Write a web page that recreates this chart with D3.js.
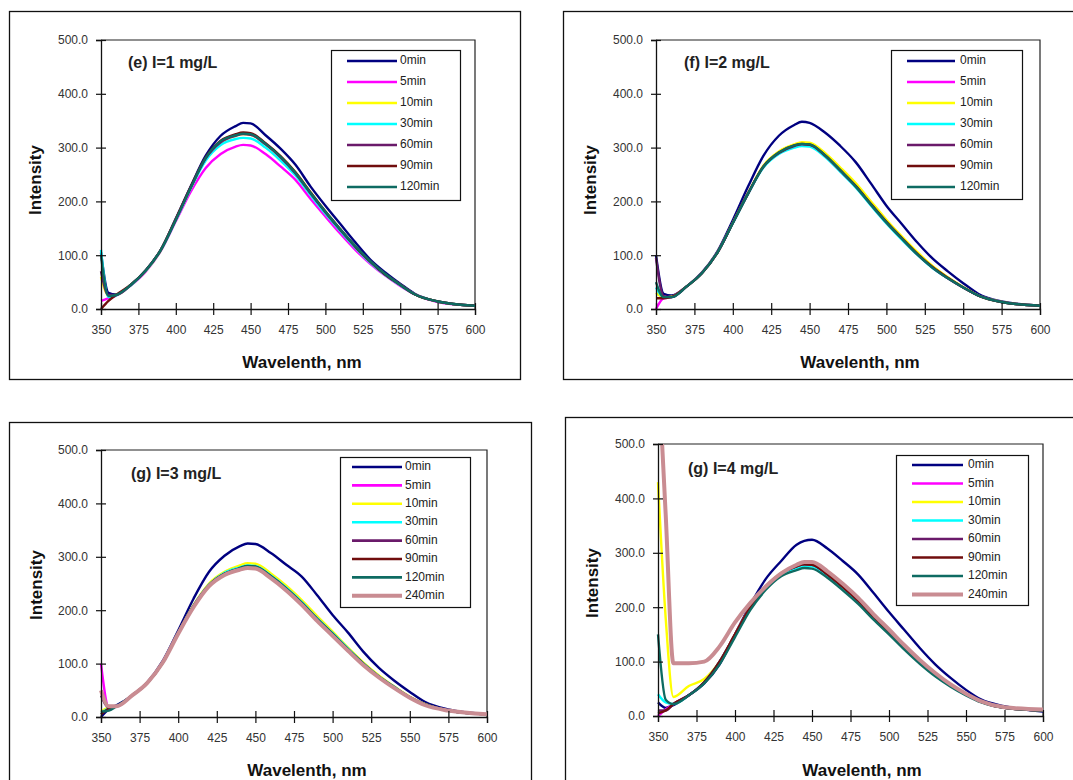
<!DOCTYPE html>
<html><head><meta charset="utf-8">
<script src="https://cdn.jsdelivr.net/npm/d3@7"></script>
<style>
body{margin:0;background:#fff}
svg{display:block}
text{font-family:Arial,"Liberation Sans",sans-serif}
</style>
</head><body>
<svg id="c" width="1073" height="780"></svg>
<script>
// ---------- DATA ----------
const wavelengths = [350,355,360,370,380,390,400,410,420,430,440,445,450,460,470,480,490,500,510,520,530,540,550,560,575,600];
const xTicks = [350,375,400,425,450,475,500,525,550,575,600];
const yTicks = [0,100,200,300,400,500];
const seriesNames7 = ["0min","5min","10min","30min","60min","90min","120min"];
const seriesNames8 = ["0min","5min","10min","30min","60min","90min","120min","240min"];
const seriesColors = ["#000080","#ff00ff","#ffff00","#00ffff","#6a1a6a","#700d0d","#0e6b62","#c98c92"];
const panelTitles = ["(e) I=1 mg/L","(f) I=2 mg/L","(g) I=3 mg/L","(g) I=4 mg/L"];
const xLabel = "Wavelenth, nm";
const yLabel = "Intensity";

// (e) I=1 mg/L
const panelE = [
  [105,30,27,45,72,110,168,228,285,322,340,346,345,323,298,268,228,192,158,124,92,68,47,28,14,6],
  [15,20,25,44,70,108,163,218,262,288,302,305,304,288,265,240,205,172,140,110,84,62,43,27,13,6],
  [60,25,26,45,71,109,166,225,278,310,322,325,324,306,283,254,217,181,148,116,88,64,45,27,14,6],
  [110,22,25,44,71,109,165,224,276,305,316,318,317,300,276,248,212,177,145,114,86,63,44,27,14,6],
  [70,26,26,45,72,110,166,226,280,310,322,325,324,306,282,252,215,180,147,116,88,64,45,27,14,6],
  [0,15,26,45,72,110,167,227,282,313,325,328,327,308,284,254,217,181,148,116,88,64,45,27,14,6],
  [100,24,26,45,72,110,166,226,281,312,323,326,325,307,283,253,216,181,148,117,89,65,45,27,14,6]
];
// (f) I=2 mg/L
const panelF = [
  [100,28,25,42,68,107,165,228,285,322,342,348,346,328,303,273,233,192,158,124,94,70,48,28,14,6],
  [0,20,22,42,67,105,160,215,265,290,302,305,304,285,257,228,194,161,131,102,77,57,40,25,13,6],
  [30,22,23,42,67,105,160,216,267,293,306,310,309,290,263,234,200,166,135,106,80,59,41,25,13,6],
  [40,22,22,42,67,105,159,214,263,288,300,303,302,283,255,226,192,159,129,101,76,57,40,25,13,6],
  [95,24,22,42,67,105,160,215,265,290,303,306,305,285,257,228,194,161,131,102,77,57,40,25,13,6],
  [20,20,22,42,67,105,160,215,265,291,304,307,306,286,258,229,195,162,132,103,78,58,40,25,13,6],
  [50,22,22,42,67,105,160,215,265,291,304,307,306,286,258,228,194,161,131,102,77,57,40,25,13,6]
];
// (g) I=3 mg/L
const panelG = [
  [0,15,22,40,65,105,162,222,272,302,320,325,324,307,285,263,228,191,158,122,92,68,47,28,14,5],
  [100,20,20,40,64,102,157,208,247,268,278,282,281,263,240,213,183,155,126,99,75,55,37,23,12,5],
  [10,18,20,40,64,102,158,210,250,272,284,288,287,269,246,219,189,160,130,102,78,57,38,24,12,5],
  [8,16,20,40,64,102,157,209,248,270,280,284,283,265,242,215,185,157,128,100,76,56,37,23,12,5],
  [40,18,20,40,64,102,157,208,247,268,278,282,281,263,240,213,183,155,126,99,75,55,37,23,12,5],
  [5,16,20,40,64,102,157,208,247,268,278,282,281,263,240,213,183,155,126,99,75,55,37,23,12,5],
  [10,12,20,40,64,102,157,208,247,268,279,283,282,264,241,214,184,156,127,100,76,56,37,23,12,5],
  [50,20,20,40,64,102,156,206,245,266,276,279,278,260,237,210,180,152,124,97,74,54,36,22,12,5]
];
// (g) I=4 mg/L
const panelH = [
  [25,15,20,38,60,95,150,205,252,285,315,322,324,308,285,260,226,191,158,125,95,70,48,30,18,8],
  [0,12,22,38,62,100,150,200,238,262,275,279,278,260,237,212,182,155,126,100,76,56,40,26,15,10],
  [430,180,35,55,68,100,150,200,238,263,276,280,279,261,238,213,183,156,127,100,76,56,40,26,15,10],
  [40,25,22,38,62,100,148,198,236,260,272,276,275,257,234,209,180,153,124,98,74,55,39,26,15,10],
  [10,10,22,38,62,100,150,200,238,262,275,279,278,260,237,212,182,155,126,100,76,56,40,26,15,10],
  [5,10,22,38,62,100,150,200,238,262,275,279,278,260,237,212,182,155,126,100,76,56,40,26,15,10],
  [150,30,22,38,60,95,145,195,232,257,268,272,271,254,231,206,177,150,122,96,73,54,38,25,15,10],
  [650,370,97,97,100,128,172,208,238,262,278,283,283,266,243,217,187,159,130,103,79,58,41,27,16,12]
];

// ---------- LAYOUT ----------
const panels = [
  {data:panelE, names:seriesNames7, title:panelTitles[0],
   frame:[9.5,11.5,520.5,379.5], px:[101,475], py:[40,309],
   leg:[331,50,460,200], legY0:61, legStep:21, legLine:[347,397], legText:400,
   titlePos:[128,68], yLab:[37,180], xLab:[302,368]},
  {data:panelF, names:seriesNames7, title:panelTitles[1],
   frame:[563.5,11.5,1080,379.5], px:[656,1040], py:[40,309],
   leg:[891,50,1022,199], legY0:61, legStep:21, legLine:[907,955], legText:960,
   titlePos:[684,68], yLab:[592,180], xLab:[860,368]},
  {data:panelG, names:seriesNames8, title:panelTitles[2],
   frame:[9.5,422.5,531.5,790], px:[101,487], py:[450,717],
   leg:[340,457,470,607], legY0:467, legStep:18.4, legLine:[352,402], legText:405,
   titlePos:[131,479], yLab:[38,585], xLab:[307,776]},
  {data:panelH, names:seriesNames8, title:panelTitles[3],
   frame:[565.5,417.5,1080,790], px:[658,1043], py:[444,716],
   leg:[896,455,1028,605], legY0:465, legStep:18.5, legLine:[912,963], legText:968,
   titlePos:[688,474], yLab:[594,583], xLab:[862,776]}
];

const svg = d3.select("#c");

panels.forEach((p, pi) => {
  const g = svg.append("g");
  // frame
  g.append("rect")
    .attr("x", p.frame[0]).attr("y", p.frame[1])
    .attr("width", p.frame[2]-p.frame[0]).attr("height", p.frame[3]-p.frame[1])
    .attr("fill", "#fff").attr("stroke", "#111").attr("stroke-width", 1.3);

  const x = d3.scaleLinear().domain([350,600]).range(p.px);
  const y = d3.scaleLinear().domain([0,500]).range([p.py[1], p.py[0]]);

  // plot border (top & right)
  g.append("path")
    .attr("d", `M${p.px[0]},${p.py[0]}H${p.px[1]}V${p.py[1]}`)
    .attr("fill","none").attr("stroke","#222").attr("stroke-width",1.2);

  // clip
  const cid = "clip"+pi;
  svg.append("clipPath").attr("id", cid).append("rect")
    .attr("x", p.px[0]-2).attr("y", p.py[0])
    .attr("width", p.px[1]-p.px[0]+4).attr("height", p.py[1]-p.py[0]+3);

  const line = d3.line()
    .x((d,i) => x(wavelengths[i]))
    .y(d => y(d))
    .curve(d3.curveMonotoneX);

  const lg = g.append("g").attr("clip-path", `url(#${cid})`);
  p.data.forEach((vals, si) => {
    lg.append("path")
      .datum(vals)
      .attr("d", line)
      .attr("fill","none")
      .attr("stroke", seriesColors[si])
      .attr("stroke-width", si === 7 ? 4 : 2.4)
      .attr("stroke-linejoin","round");
  });

  // x axis
  const xa = g.append("g").attr("transform", `translate(0,${p.py[1]})`)
    .call(d3.axisBottom(x).tickValues(xTicks).tickSize(6).tickPadding(10).tickFormat(d3.format("d")));
  xa.select(".domain").attr("stroke","#111").attr("stroke-width",1.3);
  xa.selectAll(".tick line").attr("y1",-6).attr("y2",6).attr("stroke","#111").attr("stroke-width",1.2);
  xa.selectAll(".tick text").attr("font-size",12).attr("fill","#333").attr("font-family","Arial, 'Liberation Sans', sans-serif");

  // y axis
  const ya = g.append("g").attr("transform", `translate(${p.px[0]},0)`)
    .call(d3.axisLeft(y).tickValues(yTicks).tickSize(5).tickPadding(8).tickFormat(d3.format(".1f")));
  ya.select(".domain").attr("stroke","#111").attr("stroke-width",1.3);
  ya.selectAll(".tick line").attr("x1",5).attr("x2",-5).attr("stroke","#111").attr("stroke-width",1.2);
  ya.selectAll(".tick text").attr("font-size",12).attr("fill","#333").attr("font-family","Arial, 'Liberation Sans', sans-serif");

  // title
  g.append("text").attr("x", p.titlePos[0]).attr("y", p.titlePos[1])
    .attr("font-size",16).attr("font-weight","bold").attr("fill","#222").text(p.title);

  // axis labels
  g.append("text").attr("x", p.xLab[0]).attr("y", p.xLab[1])
    .attr("text-anchor","middle").attr("font-size",17).attr("font-weight","bold").attr("fill","#111")
    .text(xLabel);
  g.append("text")
    .attr("transform", `translate(${p.yLab[0]},${p.yLab[1]}) rotate(-90)`)
    .attr("text-anchor","middle").attr("dominant-baseline","middle")
    .attr("font-size",17).attr("font-weight","bold").attr("fill","#111")
    .text(yLabel);

  // legend
  g.append("rect")
    .attr("x", p.leg[0]+0.5).attr("y", p.leg[1]+0.5)
    .attr("width", p.leg[2]-p.leg[0]).attr("height", p.leg[3]-p.leg[1])
    .attr("fill","#fff").attr("stroke","#111").attr("stroke-width",1.2);
  p.names.forEach((nm, si) => {
    const yy = p.legY0 + si * p.legStep;
    g.append("line")
      .attr("x1", p.legLine[0]).attr("x2", p.legLine[1])
      .attr("y1", yy).attr("y2", yy)
      .attr("stroke", seriesColors[si]).attr("stroke-width", si === 7 ? 4 : 2.6);
    g.append("text").attr("x", p.legText).attr("y", yy)
      .attr("dominant-baseline","middle").attr("font-size",12).attr("fill","#222").text(nm);
  });
});
</script>
</body></html>
